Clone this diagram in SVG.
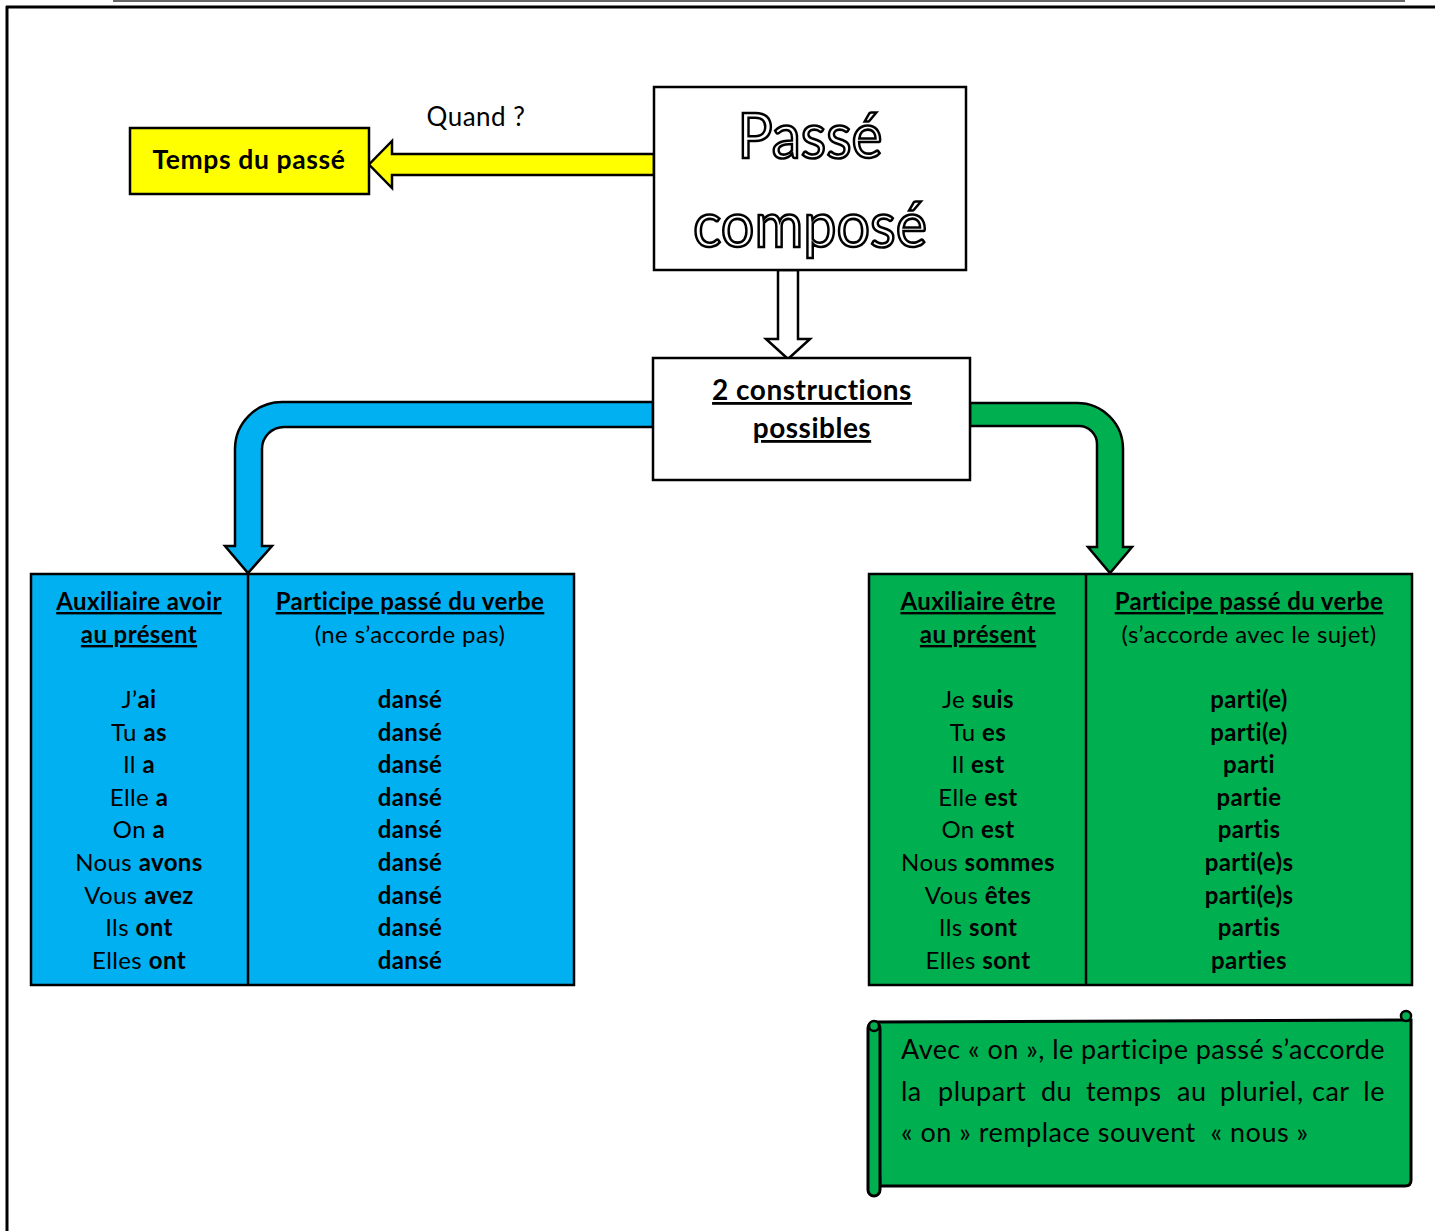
<svg xmlns="http://www.w3.org/2000/svg" width="1435" height="1231" viewBox="0 0 1435 1231">
<defs>
<style>
text{font-family:Lato,"Open Sans","Liberation Sans",sans-serif;fill:#000;letter-spacing:0.5px}
.t{font-size:24px;text-anchor:middle;letter-spacing:0.4px}
.b{font-weight:bold}
.u{text-decoration:underline}
.box{stroke:#000;stroke-width:2.5}
.arr{stroke:#000;stroke-width:2.5;stroke-linejoin:miter}
.big{font-size:62px;text-anchor:middle;fill:#fff;stroke:#000;stroke-width:2.6;letter-spacing:0}
.note{font-size:27px}
</style>
</defs>
<rect width="1435" height="1231" fill="#fff"/>
<g id="page">
<line x1="113" y1="1" x2="1405" y2="1" stroke="#666" stroke-width="2"/>
<line x1="6" y1="7" x2="1435" y2="7" stroke="#000" stroke-width="3"/>
<line x1="7" y1="6" x2="7" y2="1231" stroke="#000" stroke-width="3"/>
</g>
<g id="connectors">
<polygon class="arr" fill="#FFFF00" points="654,154 392,154 392,141 369,164.5 392,188 392,175 654,175"/>
<text x="476" y="126" font-size="26" text-anchor="middle">Quand ?</text>
<polygon class="arr" fill="#fff" points="778,270 778,339 766,339 788,359 810,339 798,339 798,270"/>
<path class="arr" fill="#00B0F0" d="M653,402 L282,402 A47,47 0 0 0 235,449 L235,546 L225,546 L248,573 L272,546 L262,546 L262,449 A22,22 0 0 1 284,427 L653,427 Z"/>
<path class="arr" fill="#00B050" d="M970,403 L1077,403 A46,46 0 0 1 1123,449 L1123,547 L1132,547 L1110,573 L1088,547 L1097,547 L1097,444 A18,18 0 0 0 1079,426 L970,426 Z"/>
</g>
<g id="node-passe-compose">
<rect class="box" x="654" y="87" width="312" height="183" fill="#fff"/>
<text class="big" x="810" y="158" textLength="145" lengthAdjust="spacingAndGlyphs">Passé</text>
<text class="big" x="810" y="247" textLength="234" lengthAdjust="spacingAndGlyphs">composé</text>
</g>
<g id="node-temps">
<rect class="box" x="130" y="128" width="239" height="66" fill="#FFFF00"/>
<text x="249" y="169" font-size="26.5" class="b" text-anchor="middle" style="letter-spacing:0.6px">Temps du passé</text>
</g>
<g id="node-constructions">
<rect class="box" x="653" y="358" width="317" height="122" fill="#fff"/>
<text x="812" y="400" font-size="28" class="b u" text-anchor="middle">2 constructions</text>
<text x="812" y="438" font-size="28" class="b u" text-anchor="middle">possibles</text>
</g>
<g id="node-avoir">
<rect class="box" x="31" y="574" width="543" height="411" fill="#00B0F0"/>
<line x1="248" y1="574" x2="248" y2="985" stroke="#000" stroke-width="2.5"/>
<text class="t b u" x="139" y="610">Auxiliaire avoir</text>
<text class="t b u" x="139" y="643">au présent</text>
<text class="t b u" x="410" y="610">Participe passé du verbe</text>
<text class="t" x="410" y="643">(ne s’accorde pas)</text>
<text class="t" x="139" y="708">J’<tspan class="b">ai</tspan></text>
<text class="t" x="139" y="741">Tu <tspan class="b">as</tspan></text>
<text class="t" x="139" y="773">Il <tspan class="b">a</tspan></text>
<text class="t" x="139" y="806">Elle <tspan class="b">a</tspan></text>
<text class="t" x="139" y="838">On <tspan class="b">a</tspan></text>
<text class="t" x="139" y="871">Nous <tspan class="b">avons</tspan></text>
<text class="t" x="139" y="904">Vous <tspan class="b">avez</tspan></text>
<text class="t" x="139" y="936">Ils <tspan class="b">ont</tspan></text>
<text class="t" x="139" y="969">Elles <tspan class="b">ont</tspan></text>
<text class="t b" x="410" y="708">dansé</text>
<text class="t b" x="410" y="741">dansé</text>
<text class="t b" x="410" y="773">dansé</text>
<text class="t b" x="410" y="806">dansé</text>
<text class="t b" x="410" y="838">dansé</text>
<text class="t b" x="410" y="871">dansé</text>
<text class="t b" x="410" y="904">dansé</text>
<text class="t b" x="410" y="936">dansé</text>
<text class="t b" x="410" y="969">dansé</text>
</g>
<g id="node-etre">
<rect class="box" x="869" y="574" width="543" height="411" fill="#00B050"/>
<line x1="1086" y1="574" x2="1086" y2="985" stroke="#000" stroke-width="2.5"/>
<text class="t b u" x="978" y="610">Auxiliaire être</text>
<text class="t b u" x="978" y="643">au présent</text>
<text class="t b u" x="1249" y="610">Participe passé du verbe</text>
<text class="t" x="1249" y="643">(s’accorde avec le sujet)</text>
<text class="t" x="978" y="708">Je <tspan class="b">suis</tspan></text>
<text class="t" x="978" y="741">Tu <tspan class="b">es</tspan></text>
<text class="t" x="978" y="773">Il <tspan class="b">est</tspan></text>
<text class="t" x="978" y="806">Elle <tspan class="b">est</tspan></text>
<text class="t" x="978" y="838">On <tspan class="b">est</tspan></text>
<text class="t" x="978" y="871">Nous <tspan class="b">sommes</tspan></text>
<text class="t" x="978" y="904">Vous <tspan class="b">êtes</tspan></text>
<text class="t" x="978" y="936">Ils <tspan class="b">sont</tspan></text>
<text class="t" x="978" y="969">Elles <tspan class="b">sont</tspan></text>
<text class="t b" x="1249" y="708">parti(e)</text>
<text class="t b" x="1249" y="741">parti(e)</text>
<text class="t b" x="1249" y="773">parti</text>
<text class="t b" x="1249" y="806">partie</text>
<text class="t b" x="1249" y="838">partis</text>
<text class="t b" x="1249" y="871">parti(e)s</text>
<text class="t b" x="1249" y="904">parti(e)s</text>
<text class="t b" x="1249" y="936">partis</text>
<text class="t b" x="1249" y="969">parties</text>
</g>
<g id="node-note">
<path d="M874,1022 L1404,1020 L1411,1020 L1411,1180 Q1411,1186 1405,1186 L880,1186 Z" fill="#00B050" stroke="#000" stroke-width="3"/>
<circle cx="1406" cy="1016" r="5" fill="#00B050" stroke="#000" stroke-width="2.5"/>
<rect x="868" y="1022" width="12" height="174" rx="6" fill="#00B050" stroke="#000" stroke-width="3"/>
<circle cx="874" cy="1026" r="5" fill="#00B050" stroke="#000" stroke-width="2.5"/>
<text class="note" x="901" y="1059" textLength="484" lengthAdjust="spacing">Avec « on », le participe passé s’accorde</text>
<text class="note" y="1101"><tspan x="901">la</tspan><tspan x="938">plupart</tspan><tspan x="1041">du</tspan><tspan x="1086">temps</tspan><tspan x="1177">au</tspan><tspan x="1220">pluriel,</tspan><tspan x="1312">car</tspan></text>
<text class="note" x="1385" y="1101" text-anchor="end">le</text>
<text class="note" x="901" y="1142">« on » remplace souvent &#160;« nous »</text>
</g>
</svg>
